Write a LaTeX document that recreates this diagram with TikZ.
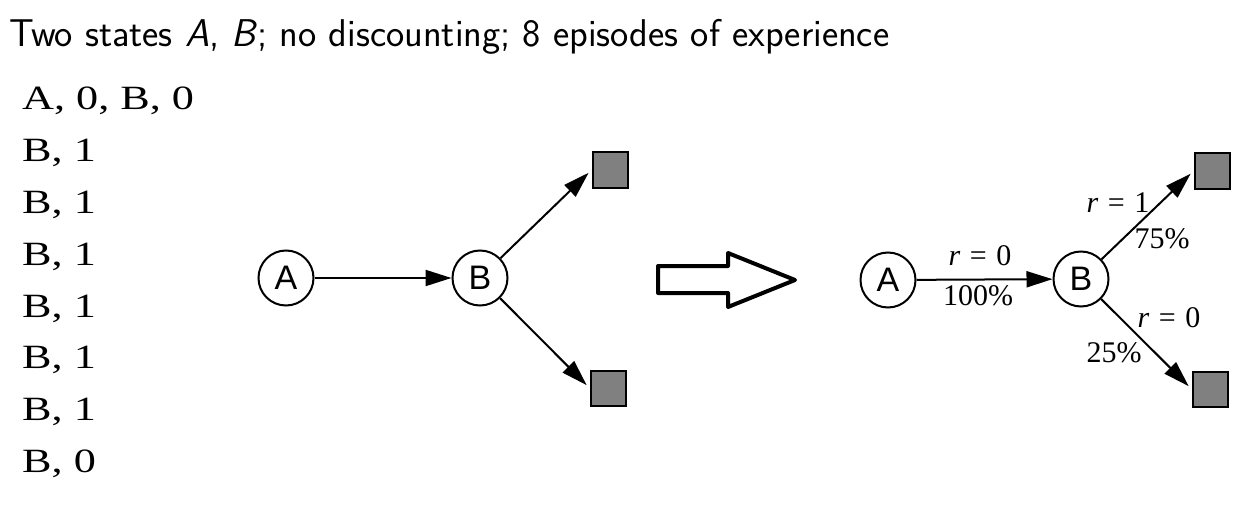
\documentclass[tikz,border=0pt]{standalone}
\usepackage{fontspec}
\setmainfont{Liberation Serif}
\newfontfamily\arialf{Liberation Sans}
\usetikzlibrary{arrows.meta}
\newcommand{\epstretch}[1]{\scalebox{1.3}[1]{#1}}
\newcommand{\req}[1]{\textit{r}\hspace{0.32em}=\hspace{0.32em}#1}
\tikzset{
  state/.style={circle, draw, line width=2pt, minimum size=55pt, inner sep=0pt, font=\arialf\fontsize{34}{34}\selectfont},
  term/.style={rectangle, draw, line width=2pt, fill={rgb,255:red,128;green,128;blue,128}, minimum size=35pt, inner sep=0pt},
  edge/.style={line width=2pt, -{Triangle[length=26pt,width=16pt]}},
  lab/.style={anchor=base, inner sep=0pt, font=\fontsize{30}{30}\selectfont},
  ep/.style={anchor=base west, inner sep=0pt, font=\fontsize{34}{34}\selectfont},
}
\begin{document}
\begin{tikzpicture}[x=1pt,y=-1pt]
\useasboundingbox (0,0) rectangle (1256,516);
\node[anchor=base west, inner sep=0pt, font=\sffamily\fontsize{38.7}{38.7}\selectfont] (title) at (9,47) {Two states \textit{A}, \textit{B}; no discounting; 8 episodes of experience};
% episodes
\node[ep] (e1) at (22,110) {\epstretch{A, 0, B, 0}};
\node[ep] (e2) at (22,162) {\epstretch{B, 1}};
\node[ep] (e3) at (22,213) {\epstretch{B, 1}};
\node[ep] (e4) at (22,265) {\epstretch{B, 1}};
\node[ep] (e5) at (22,317) {\epstretch{B, 1}};
\node[ep] (e6) at (22,368) {\epstretch{B, 1}};
\node[ep] (e7) at (22,420) {\epstretch{B, 1}};
\node[ep] (e8) at (22,472) {\epstretch{B, 0}};
% middle diagram
\node[state] (A1) at (286,278) {A};
\node[state] (B1) at (480,278) {B};
\node[term] (T1) at (610,170) {};
\node[term] (T2) at (608,388) {};
\draw[edge] (A1) -- (B1);
\draw[edge, shorten >=4pt] (B1) -- (T1.west);
\draw[edge, shorten >=4pt] (B1) -- (T2.west);
% hollow arrow
\draw[line width=4pt, line join=round] (658,266) -- (728,266) -- (728,253) -- (795,280) -- (728,307) -- (728,293) -- (658,293) -- cycle;
% right diagram
\node[state] (A2) at (888,280) {A};
\node[state] (B2) at (1081,279) {B};
\node[term] (T3) at (1212,171) {};
\node[term] (T4) at (1210,389) {};
\draw[edge] (A2) -- (B2);
\draw[edge, shorten >=4pt] (B2) -- (T3.west);
\draw[edge, shorten >=4pt] (B2) -- (T4.west);
\node[lab] (l1) at (980,265) {\req{0}};
\node[lab] (l2) at (978,305) {100\%};
\node[lab] (l3) at (1118,212) {\req{1}};
\node[lab] (l4) at (1162,248) {75\%};
\node[lab] (l5) at (1169,327) {\req{0}};
\node[lab] (l6) at (1114,362) {25\%};
\end{tikzpicture}
\end{document}
